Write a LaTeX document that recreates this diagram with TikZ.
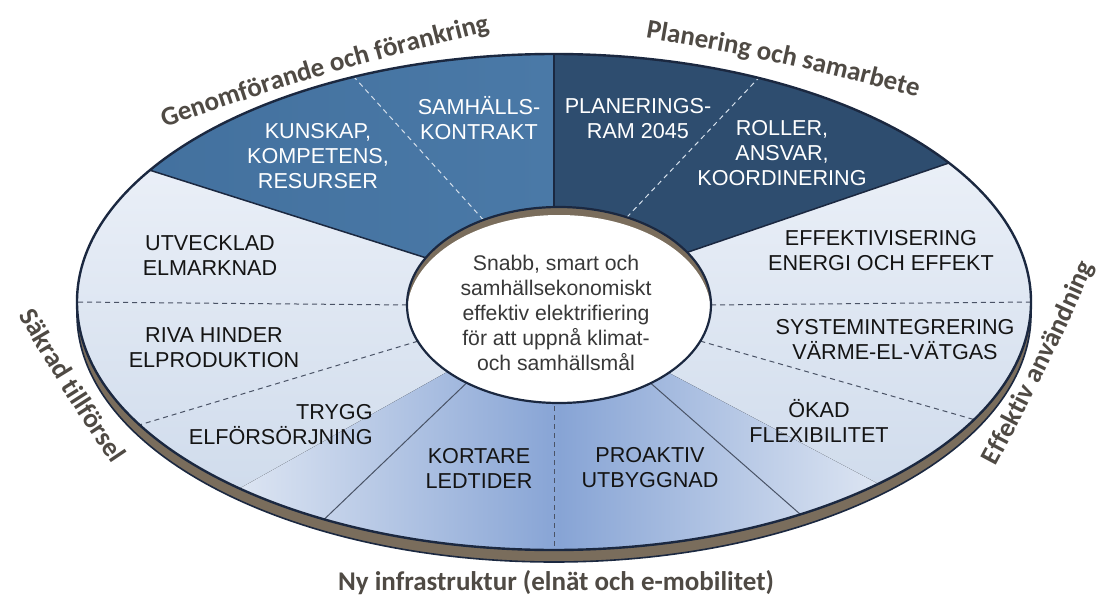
\documentclass[tikz,border=0pt]{standalone}
\usepackage{fontspec}
\setmainfont{Liberation Sans}
\newfontfamily\titlefont{Carlito}
\usetikzlibrary{calc,decorations.text}

\definecolor{rimline}{HTML}{1B2840}
\definecolor{rimbrown}{HTML}{7A6D5C}
\definecolor{blueleft}{HTML}{3E6B98}
\definecolor{blueright}{HTML}{4A79A7}
\definecolor{navy}{HTML}{2E4D6F}
\definecolor{lighttop}{HTML}{F3F6FB}
\definecolor{lightbot}{HTML}{CBD8EA}
\definecolor{bandmid}{HTML}{87A4D5}
\definecolor{bandedge}{HTML}{E2E9F4}
\definecolor{dashgrey}{HTML}{4A5366}
\definecolor{dashwhite}{HTML}{D5E0EC}
\definecolor{segtext}{HTML}{141414}
\definecolor{hubtext}{HTML}{383838}
\definecolor{titlegrey}{HTML}{4F4A44}

\newcommand\titlestyle{\titlefont\bfseries\fontsize{13.5}{16}\selectfont}

\begin{document}
\begin{tikzpicture}[
  x=0.5pt, y=0.5pt,
  seg/.style={font=\fontsize{10.8}{12.5}\selectfont, align=center,
              text=segtext, inner sep=0pt},
  segw/.style={seg, text=white},
  solidline/.style={rimline, line width=0.75pt},
  thinline/.style={rimline!80, line width=0.5pt},
  dashline/.style={dashgrey, line width=0.5pt, dash pattern=on 2.5pt off 2pt},
  whitedash/.style={dashline, dashwhite},
  arctitle/.style={decorate, decoration={text along path, text align=center,
              text color=titlegrey, text={|\titlestyle|#1}}}
]
\useasboundingbox (-554,-298) rectangle (553,302);
\fill[white] (-554,-298) rectangle (553,302);

% base of the disc
\filldraw[fill=rimbrown, draw=rimline, line width=0.8pt]
  (0,-12) ellipse [x radius=477, y radius=248];

% ends of the dividers on the rim and on the hub
\coordinate (icen) at (5,-3);
\foreach \n/\ao/\ai in {A/147.9/151.2, B/114.8/119.8, D/64.6/63.5,
    E/34.1/32.5, F/0/0, G/331.7/338.4, H/301.1/307.1, J/241.2/232.6,
    K/209.7/201.7, L/180/180} {
  \coordinate (o\n) at (\ao:477 and 248);
  \coordinate (i\n) at ($(icen)+(\ai:152 and 98)$);
}
\coordinate (oC) at (0,248);  \coordinate (iC) at (0,90);
\coordinate (oI) at (0,-248); \coordinate (iI) at (0,-95);

\begin{scope}
  \clip (0,0) ellipse [x radius=477, y radius=248];
  \fill[top color=lighttop, bottom color=lightbot] (-480,-250) rectangle (480,250);
  % blue band at the bottom
  \begin{scope}
    \clip (0,-10) -- (-700,-403) -- (0,-700) -- (700,-381) -- cycle;
    \fill[left color=bandedge, right color=bandedge, middle color=bandmid]
      (-335,-260) rectangle (345,0);
  \end{scope}
  % the two dark sectors on top
  \fill[left color=blueleft, right color=blueright]
    (0,0) -- (iA) -- ($(iA)!2!(oA)$) -- (-700,400) -- (0,400) -- cycle;
  \fill[navy] (0,0) -- (0,400) -- (700,400) -- ($(iE)!2!(oE)$) -- (iE) -- cycle;

  \foreach \n in {A,C,E} \draw[solidline] (i\n) -- (o\n);
  \foreach \n in {B,D} \draw[whitedash] (i\n) -- (o\n);
  \foreach \n in {F,G,I,K,L} \draw[dashline] (i\n) -- (o\n);
  \foreach \n in {H,J} \draw[thinline] (i\n) -- (o\n);
\end{scope}
\draw[rimline, line width=1.2pt] (0,0) ellipse [x radius=477, y radius=248];

% hub
\fill[rimbrown] (icen) ellipse [x radius=152, y radius=98];
\begin{scope}
  \clip (icen) ellipse [x radius=152, y radius=98];
  \fill[white] ($(icen)+(0,-8)$) ellipse [x radius=152, y radius=98];
\end{scope}
\draw[rimline, line width=1.1pt] (icen) ellipse [x radius=152, y radius=98];

\node[font=\fontsize{10.6}{12.5}\selectfont, align=center, text=hubtext,
      inner sep=0pt] (hub) at (2,-11)
  {Snabb, smart och\\samhällsekonomiskt\\effektiv elektrifiering\\för att uppnå klimat-\\och samhällsmål};

% sector labels
\node[segw] (kunskap) at (-236,146) {KUNSKAP,\\KOMPETENS,\\RESURSER};
\node[segw] (kontrakt) at (-75,184) {SAMHÄLLS-\\KONTRAKT};
\node[segw] (ram) at (84,183) {PLANERINGS-\\RAM 2045};
\node[segw] (roller) at (228,149) {ROLLER,\\ANSVAR,\\KOORDINERING};
\node[seg] (effektiv) at (327,51) {EFFEKTIVISERING\\ENERGI OCH EFFEKT};
\node[seg] (system) at (341,-38) {SYSTEMINTEGRERING\\VÄRME-EL-VÄTGAS};
\node[seg] (flex) at (265,-119) {ÖKAD\\FLEXIBILITET};
\node[seg] (proaktiv) at (96,-166) {PROAKTIV\\UTBYGGNAD};
\node[seg] (kortare) at (-75,-166) {KORTARE\\LEDTIDER};
\node[seg, align=right, anchor=east] (trygg) at (-181,-123) {TRYGG\\ELFÖRSÖRJNING};
\node[seg] (riva) at (-340,-46) {RIVA HINDER\\ELPRODUKTION};
\node[seg] (elmarknad) at (-344,47) {UTVECKLAD\\ELMARKNAD};

% titles round the disc
\path[arctitle={Genomförande och förankring}]
  (-456,152) .. controls (-229,230) .. (4,288);
\path[arctitle={Planering och samarbete}]
  (-8,281) .. controls (229,241) .. (461,179);
\path[arctitle={Säkrad tillförsel}]
  (-591,84) .. controls (-492,-90) .. (-379,-255);
\path[arctitle={Effektiv användning}]
  (400,-242) .. controls (495,-66) .. (576,117);
\node[font=\titlestyle, text=titlegrey] (infra) at (2,-281)
  {Ny infrastruktur (elnät och e-mobilitet)};
\end{tikzpicture}
\end{document}
